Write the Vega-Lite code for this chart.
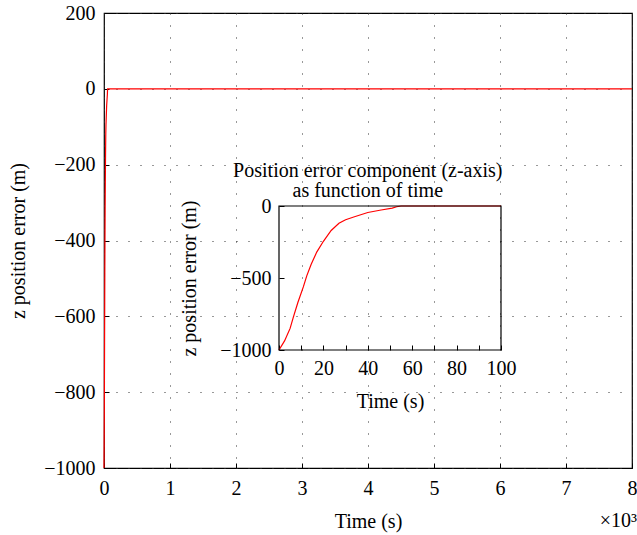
{
  "$schema": "https://vega.github.io/schema/vega-lite/v6.json",
  "width": 528,
  "height": 455,
  "autosize": {"type": "none"},
  "padding": {"left": 104, "top": 13, "right": 5, "bottom": 67},
  "background": "white",
  "config": {
    "font": "Liberation Serif",
    "view": {"stroke": "#000", "strokeWidth": 1.2},
    "axis": {
      "labelFont": "Liberation Serif",
      "titleFont": "Liberation Serif",
      "labelFontSize": 20,
      "titleFontSize": 20,
      "labelColor": "#000",
      "titleColor": "#000",
      "titleFontWeight": "normal",
      "tickColor": "#000",
      "tickSize": -5,
      "labelFlush": false,
      "labelOverlap": false,
      "domain": false,
      "grid": true,
      "gridColor": "#333",
      "gridDash": [1, 11],
      "gridWidth": 1,
      "gridOpacity": 1
    },
    "text": {"font": "Liberation Serif", "fontSize": 20, "color": "#000"}
  },
  "datasets": {
    "err": [
      {"t": 0, "e": -1000},
      {"t": 2.5, "e": -937},
      {"t": 5, "e": -850},
      {"t": 6.5, "e": -770},
      {"t": 8.5, "e": -670},
      {"t": 11, "e": -560},
      {"t": 12.5, "e": -485},
      {"t": 14.5, "e": -405},
      {"t": 17, "e": -320},
      {"t": 20, "e": -245},
      {"t": 23.5, "e": -170},
      {"t": 27, "e": -120},
      {"t": 30, "e": -95},
      {"t": 34, "e": -75},
      {"t": 40, "e": -45},
      {"t": 46, "e": -28},
      {"t": 51, "e": -15},
      {"t": 53, "e": -5},
      {"t": 55, "e": 0},
      {"t": 100, "e": 0},
      {"t": 8000, "e": 0}
    ]
  },
  "layer": [
    {
      "layer": [
        {
          "data": {"name": "err"},
          "mark": {"type": "line", "color": "#ff0000", "strokeWidth": 1.2},
          "encoding": {
            "x": {
              "field": "t",
              "type": "quantitative",
              "scale": {"domain": [0, 8000], "nice": false},
              "axis": {
                "values": [0, 1000, 2000, 3000, 4000, 5000, 6000, 7000, 8000],
                "labelExpr": "datum.value / 1000",
                "title": "Time (s)",
                "labelPadding": 15,
                "titlePadding": 13
              }
            },
            "y": {
              "field": "e",
              "type": "quantitative",
              "scale": {"domain": [-1000, 200], "nice": false},
              "axis": {
                "values": [-1000, -800, -600, -400, -200, 0, 200],
                "format": "d",
                "title": "z position error (m)",
                "labelPadding": 14,
                "titlePadding": 15
              }
            }
          }
        },
        {
          "data": {"values": [{"label": "×10³"}]},
          "mark": {"type": "text", "align": "right", "baseline": "middle", "dx": 5, "dy": 53},
          "encoding": {
            "x": {"datum": 8000, "type": "quantitative"},
            "y": {"datum": -1000, "type": "quantitative"},
            "text": {"field": "label"}
          }
        }
      ]
    },
    {
      "layer": [
        {
          "data": {"name": "err"},
          "transform": [{"filter": "datum.t <= 100"}],
          "mark": {"type": "line", "color": "#ff0000", "strokeWidth": 1.2},
          "encoding": {
            "x": {
              "field": "t",
              "type": "quantitative",
              "scale": {"domain": [0, 100], "nice": false, "range": [175, 397]},
              "axis": {
                "orient": "bottom",
                "offset": -118,
                "values": [0, 10, 20, 30, 40, 50, 60, 70, 80, 90, 100],
                "labelExpr": "datum.value % 20 == 0 ? datum.label : ''",
                "title": "Time (s)",
                "labelPadding": 13,
                "titlePadding": 13
              }
            },
            "y": {
              "field": "e",
              "type": "quantitative",
              "scale": {"domain": [-1000, 0], "nice": false, "range": [337, 193]},
              "axis": {
                "orient": "left",
                "offset": -175,
                "values": [-1000, -500, 0],
                "format": "d",
                "title": "z position error (m)",
                "labelPadding": 13,
                "titlePadding": 20
              }
            }
          }
        },
        {
          "data": {"values": [{"frame": "inset"}]},
          "mark": {"type": "rect", "fill": null, "stroke": "#000", "strokeWidth": 1.2},
          "encoding": {
            "x": {"datum": 0, "type": "quantitative"},
            "x2": {"datum": 100},
            "y": {"datum": -1000, "type": "quantitative"},
            "y2": {"datum": 0}
          }
        },
        {
          "data": {"values": [{"title": "Position error component (z-axis)\nas function of time"}]},
          "mark": {"type": "text", "align": "center", "baseline": "middle", "lineBreak": "\n", "lineHeight": 20, "dy": -35},
          "encoding": {
            "x": {"datum": 40, "type": "quantitative"},
            "y": {"datum": 0, "type": "quantitative"},
            "text": {"field": "title"}
          }
        }
      ]
    }
  ],
  "resolve": {
    "scale": {"x": "independent", "y": "independent"},
    "axis": {"x": "independent", "y": "independent"}
  }
}
